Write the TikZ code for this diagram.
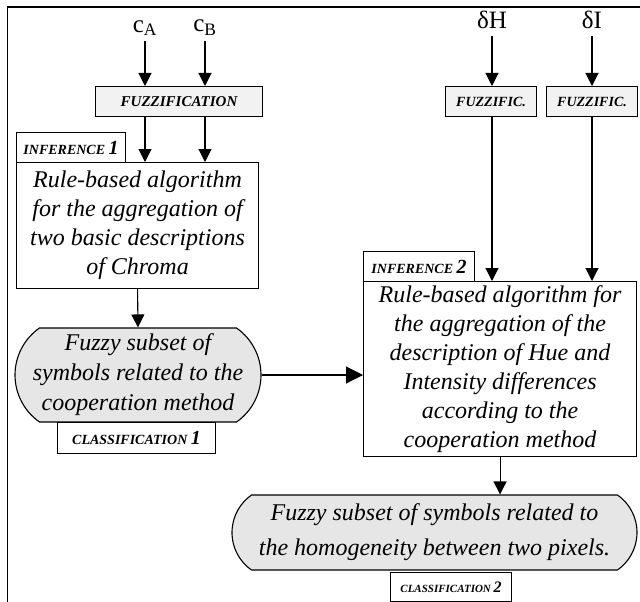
\documentclass[tikz,border=0pt]{standalone}
\usepackage{fontspec}
\setmainfont{Liberation Serif}
\usetikzlibrary{arrows.meta, shapes.misc}
\definecolor{fuzzgray}{HTML}{F2F2F2}
\definecolor{setgray}{HTML}{E6E6E6}
\newcommand{\tagnum}[2][20]{{\fontsize{#1}{#1}\selectfont #2}}
\tikzset{
  frameline/.style={line width=1.4pt},
  tagbox/.style={draw, line width=1.1pt, inner sep=0pt, anchor=north west, font=\bfseries\itshape\fontsize{14}{16}\selectfont},
  fuzzbox/.style={tagbox, fill=fuzzgray},
  rulebox/.style={draw, line width=1.1pt, inner sep=0pt, anchor=north west, align=center, font=\itshape\fontsize{24}{29}\selectfont},
  fset/.style={rounded rectangle, rounded rectangle arc length=110, draw, line width=1.1pt, fill=setgray, inner sep=0pt, align=center, font=\itshape\fontsize{24}{30}\selectfont},
  inp/.style={inner sep=1pt, font=\fontsize{25}{27}\selectfont},
  arr/.style={-{Triangle[length=13pt,width=13pt]}, line width=1.1pt},
  bigarr/.style={-{Triangle[length=17pt,width=17pt]}, line width=1.1pt}
}
\begin{document}
\begin{tikzpicture}[x=1pt, y=-1pt]
\useasboundingbox (0,0) rectangle (640,602);
% frame
\draw[frameline] (7.5,602) -- (7.5,7) -- (640,7);
% inputs of chroma
\node[inp] (ca) at (145,28) {c\textsubscript{A}};
\node[inp] (cb) at (205,28) {c\textsubscript{B}};
\node[fuzzbox, minimum width=167pt, minimum height=30pt, font=\bfseries\itshape\fontsize{15}{16}\selectfont] (fz) at (95,86) {FUZZIFICATION};
\node[tagbox, minimum width=109pt, minimum height=30pt] (inf1) at (16,132) {INFERENCE \tagnum{1}};
\node[rulebox, minimum width=242pt, minimum height=126pt] (rb1) at (16,162)
  {Rule-based algorithm\\for the aggregation of\\two basic descriptions\\of Chroma};
\node[fset, minimum width=246pt, minimum height=94pt] (set1) at (138,375)
  {Fuzzy subset of\\symbols related to the\\cooperation method};
\node[tagbox, minimum width=158pt, minimum height=31pt] (cls1) at (57,422) {CLASSIFICATION \tagnum{1}};
% inputs of hue and intensity
\node[inp] (dh) at (492,20) {δH};
\node[inp] (di) at (592,20) {δI};
\node[fuzzbox, minimum width=91pt, minimum height=30pt] (fzh) at (445,86) {FUZZIFIC.};
\node[fuzzbox, minimum width=91pt, minimum height=30pt] (fzi) at (546,86) {FUZZIFIC.};
\node[tagbox, minimum width=111pt, minimum height=30pt] (inf2) at (363,251) {INFERENCE \tagnum{2}};
\node[rulebox, minimum width=273pt, minimum height=175pt] (rb2) at (363,281)
  {Rule-based algorithm for\\the aggregation of the\\description of Hue and\\Intensity differences\\according to the\\cooperation method};
\node[fset, minimum width=405pt, minimum height=75pt, font=\itshape\fontsize{24}{35}\selectfont] (set2) at (434.5,532.5)
  {Fuzzy subset of symbols related to\\the homogeneity between two pixels.};
\node[tagbox, minimum width=121pt, minimum height=29pt, font=\bfseries\itshape\fontsize{11}{13}\selectfont] (cls2) at (390,572) {CLASSIFICATION \tagnum[16]{2}};
% connectors
\draw[arr] (ca.south) ++(0,4) -- (fz.north -| ca.south);
\draw[arr] (cb.south) ++(0,4) -- (fz.north -| cb.south);
\draw[arr] (fz.south -| ca.south) -- (rb1.north -| ca.south);
\draw[arr] (fz.south -| cb.south) -- (rb1.north -| cb.south);
\draw[arr] (rb1.south) -- (set1.north);
\draw[bigarr] (set1.east) -- (rb2.west |- set1.east);
\draw[arr] (dh.south) ++(0,6) -- (fzh.north -| dh.south);
\draw[arr] (di.south) ++(0,6) -- (fzi.north -| di.south);
\draw[arr] (fzh.south -| dh.south) -- (rb2.north -| dh.south);
\draw[arr] (fzi.south -| di.south) -- (rb2.north -| di.south);
\draw[arr] (rb2.south) -- (rb2.south |- set2.north);
\end{tikzpicture}
\end{document}
